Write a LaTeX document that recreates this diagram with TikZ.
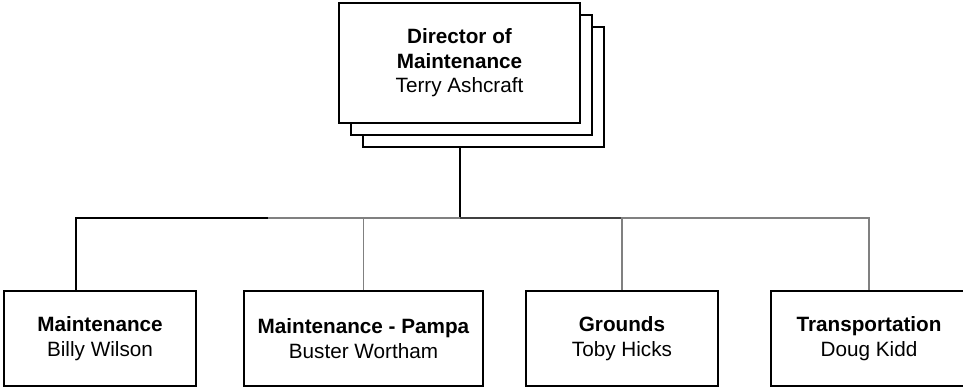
\documentclass[tikz,border=0pt]{standalone}
\usepackage{fontspec}
\setmainfont{Liberation Sans}
\usetikzlibrary{positioning}

\tikzset{
	unit/.style={draw, line width=2pt, fill=white, inner sep=0pt, align=center,
		minimum height=95pt, font=\fontsize{20.7}{24.5}\selectfont},
	topunit/.style={unit, minimum width=241pt, minimum height=120pt},
	boss/.style={line width=2pt},
	sub/.style={draw=gray, line width=1.3pt},
	midsub/.style={draw=black!75, line width=1.6pt},
}

\begin{document}
\begin{tikzpicture}[x=1pt, y=-1pt]
			\useasboundingbox (0,0) rectangle (963,388);
			
			\node[topunit] (dir3) at (483.5,87) {};
			\node[topunit] (dir2) at (471.5,75) {};
			\node[topunit] (dir) at (459.5,63) {\textbf{Director of}\\\textbf{Maintenance}\\Terry Ashcraft};
			
			\node[unit, minimum width=192pt] (maint) at (100,338.5) {\textbf{Maintenance}\\Billy Wilson};
			\node[unit, minimum width=239pt] (pampa) at (363.5,338.5) {\textbf{Maintenance - Pampa}\\Buster Wortham};
			\node[unit, minimum width=192pt] (grounds) at (622,338.5) {\textbf{Grounds}\\Toby Hicks};
			\node[unit, minimum width=196pt] (transp) at (869,338.5) {\textbf{Transportation}\\Doug Kidd};
			
			\coordinate (bus) at (460,218);
			\coordinate (split) at (268,218);
			
			\draw[boss] (bus |- dir3.south) -- (bus);
			\draw[boss] (bus) -| ([xshift=-24pt]maint.north);
			\draw[sub] (split) -- (bus);
			\draw[sub] (bus) -| (pampa.north);
			\draw[sub] (bus) -| (transp.north);
			\draw[midsub] (bus) -| (grounds.north);
			\draw[sub] (grounds.north) -- ++(0,-73);
		\end{tikzpicture}
\end{document}
